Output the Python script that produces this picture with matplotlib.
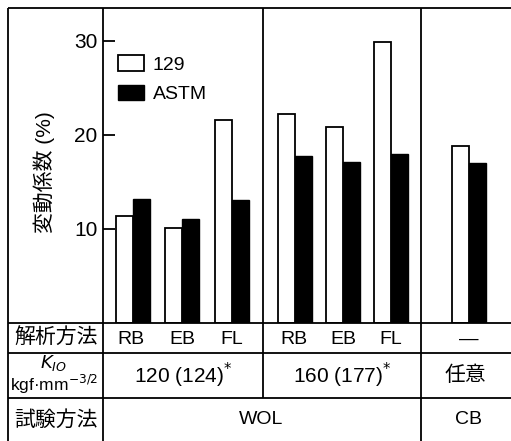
import matplotlib.pyplot as plt
from matplotlib.lines import Line2D

plt.rcParams["font.family"] = ["Liberation Sans", "Noto Sans CJK JP", "DejaVu Sans"]

# ---------------------------------------------------------------------------
# Data.
# ---------------------------------------------------------------------------
methods = ["RB", "EB", "FL", "RB", "EB", "FL", "—"]
cv_129 = [11.4, 10.1, 21.6, 22.2, 20.9, 29.9, 18.8]
cv_astm = [13.2, 11.1, 13.1, 17.8, 17.1, 18.0, 17.0]
k_labels = ["120 (124)$^{*}$", "160 (177)$^{*}$", "任意"]
test_labels = ["WOL", "CB"]
series_names = ["129", "ASTM"]
yticks = [10, 20, 30]

# ---------------------------------------------------------------------------
# Layout (pixels of the 511x441 canvas).
# ---------------------------------------------------------------------------
W, H = 511, 441
X_AX, Y_TOP, Y_ZERO = 103, 8, 323
ROW1, ROW2 = 353, 398
SEP1, SEP2 = 263, 421
BAR_W = 17
centers = [30, 79, 129, 192, 240, 288, 366]  # pair centres, px from y-axis
label_dx = [-2, 0, 0, -1, 0, 0, 0]
group_x = [183, 342, 465]  # K row text centres

fig = plt.figure(figsize=(W / 100, H / 100), dpi=100)

ax = fig.add_axes([X_AX / W, (H - Y_ZERO) / H, (W - X_AX) / W, (Y_ZERO - Y_TOP) / H])
ax.set_xlim(0, W - X_AX)
ax.set_ylim(0, (Y_ZERO - Y_TOP) / 9.4)
xs_w = [c - BAR_W / 2 for c in centers]
xs_b = [c + BAR_W / 2 for c in centers]
b1 = ax.bar(xs_w, cv_129, width=BAR_W, color="white", edgecolor="black", lw=1.3, zorder=2)
b2 = ax.bar(xs_b, cv_astm, width=BAR_W, color="black", edgecolor="black", lw=1.0, zorder=3)
for s in ax.spines.values():
    s.set_visible(False)
ax.set_xticks([])
ax.set_yticks(yticks)
ax.tick_params(axis="y", direction="in", length=8.5, width=1.3, labelsize=15, pad=4)
ax.legend([b1, b2], series_names, loc="upper left", bbox_to_anchor=(0.017, 0.874),
          frameon=False, fontsize=14, handlelength=1.35, handleheight=0.85,
          handletextpad=0.45, labelspacing=0.55, borderaxespad=0)

# Table / frame overlay in pixel coordinates.
ov = fig.add_axes([0, 0, 1, 1], facecolor="none")
ov.set_xlim(0, W)
ov.set_ylim(H, 0)
ov.axis("off")
lw = 1.3
segs = [
    ((8, 8), (Y_TOP, H)), ((X_AX, X_AX), (Y_TOP, H)),
    ((SEP1, SEP1), (Y_TOP, ROW2)), ((SEP2, SEP2), (Y_TOP, H)),
    ((8, W), (Y_TOP, Y_TOP)), ((8, W), (Y_ZERO, Y_ZERO)),
    ((8, W), (ROW1, ROW1)), ((8, W), (ROW2, ROW2)),
]
for xx, yy in segs:
    ov.add_line(Line2D(xx, yy, color="black", lw=lw, solid_capstyle="butt"))

ov.text(44, 172, "変動係数 (%)", rotation=90, ha="center", va="center", fontsize=15)

ov.text(56, (Y_ZERO + ROW1) / 2, "解析方法", ha="center", va="center", fontsize=15)
ov.text(56, (ROW2 + H) / 2, "試験方法", ha="center", va="center", fontsize=15)
ov.text(53, 363, "$K_{IO}$", ha="center", va="center", fontsize=13)
ov.text(54, 384, "kgf·mm$^{-3/2}$", ha="center", va="center", fontsize=12.5)

for c, dx, m in zip(centers, label_dx, methods):
    ov.text(X_AX + c + dx, (Y_ZERO + ROW1) / 2 + 1, m, ha="center", va="center", fontsize=14)
for gx, k in zip(group_x, k_labels):
    ov.text(gx, (ROW1 + ROW2) / 2, k, ha="center", va="center", fontsize=15)
ov.text(261, (ROW2 + H) / 2, test_labels[0], ha="center", va="center", fontsize=14)
ov.text(468, (ROW2 + H) / 2, test_labels[1], ha="center", va="center", fontsize=14)

fig.savefig("out.png", dpi=100)
